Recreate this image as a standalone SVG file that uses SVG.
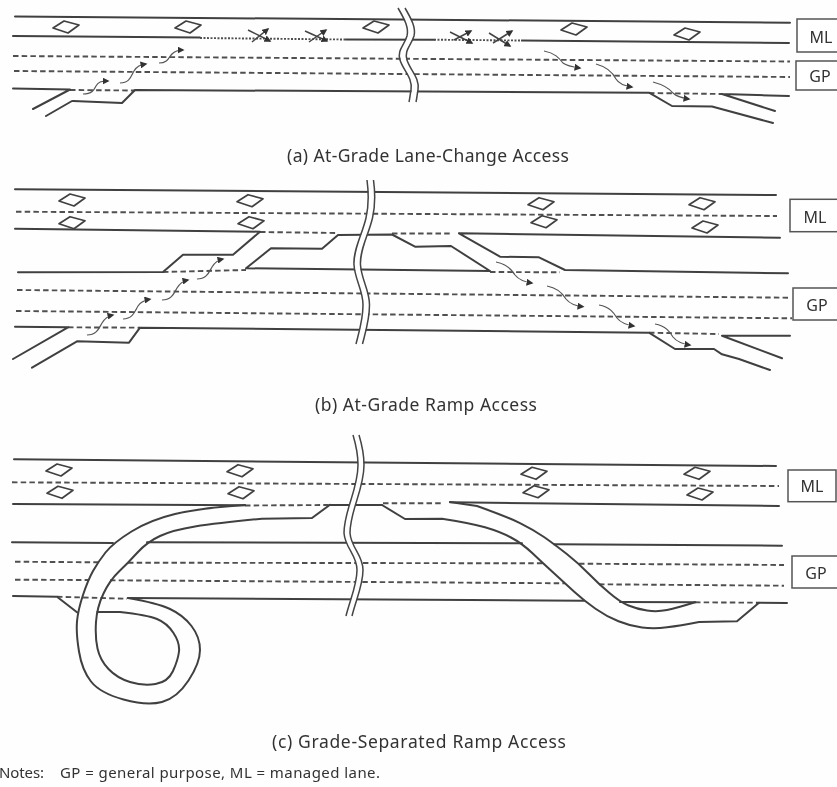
<svg xmlns="http://www.w3.org/2000/svg" xmlns:xlink="http://www.w3.org/1999/xlink" width="837" height="787" viewBox="0 0 837 787">
<style>
.l{fill:none;stroke:#404040;stroke-width:2;stroke-linejoin:round;stroke-linecap:round}
.d{fill:none;stroke:#505050;stroke-width:1.9;stroke-dasharray:5.5 3.2}
.t{fill:none;stroke:#505050;stroke-width:1.9;stroke-dasharray:2 1.5}
.r{fill:none;stroke:#404040;stroke-width:1.7;stroke-linejoin:round}
.q{fill:none;stroke:#555;stroke-width:1.2;marker-end:url(#a)}
.x{fill:none;stroke:#444;stroke-width:1.5;marker-end:url(#a)}
.b{fill:none;stroke:#444;stroke-width:1.5}
.g{fill:none;stroke:#fff;stroke-width:5.5}
.k{fill:#fff;stroke:#555;stroke-width:1.5}
text{font-family:"Noto Sans","DejaVu Sans",sans-serif;fill:#333}
.n{font-size:16px;text-anchor:middle;dominant-baseline:central}
.c{font-size:17.5px}
</style>
<defs>
<marker id="a" markerUnits="userSpaceOnUse" markerWidth="8" markerHeight="7" refX="5.500" refY="3.500" orient="auto"><path d="M0 0L7 3.500L0 7Z" fill="#333"/></marker>
<path id="m" class="r" d="M-13 1L-2-6L13-2L2 6Z"/>
<filter id="s" x="-2%" y="-2%" width="104%" height="104%"><feGaussianBlur stdDeviation="0.45"/></filter>
<path id="ba" d="M398 8C405 20 409 28 407 36C404 46 397 50 400 60C403 70 413 78 411 90C410 95 410 98 409 102"/>
<path id="bb" d="M367 180C369 195 369 205 366 218C362 235 353 250 354 265C355 280 363 290 363 305C363 320 359 332 356 344"/>
<path id="bc" d="M353 435C356 445 358 455 358 465C358 490 344 510 344 533C345 548 357 555 357 570C357 585 350 600 346 616"/>
</defs>
<rect width="837" height="787" fill="#fefefe"/>
<g filter="url(#s)">
<g id="panel-a">
<path class="l" d="M15 16.500L400 19.500L790 22.700"/>
<path class="l" d="M13 36L200 37.500M346 39.500L434 39.700M522 40.500L789 43"/>
<path class="t" d="M200 38L346 39.500M434 39.700L522 40.500"/>
<path class="d" d="M13 56L790 61.500M14 71L790 77M70 90L135 90.500M649 93L722 94"/>
<path class="l" d="M13 88.500L70 89.500L33 109M135 90L649 92.700L672 106L712 106.500L773 123M722 94L789 96M722 94L775 111M72 101L46 116M73 101L122 103L135 90"/>
<use href="#m" x="66" y="27"/><use href="#m" x="188" y="27"/><use href="#m" x="376" y="27"/><use href="#m" x="574" y="29"/><use href="#m" x="687" y="34"/>
<path class="x" d="M248 30L270 41"/><path class="x" d="M252 42L268 29"/>
<path class="x" d="M305 31L327 41"/><path class="x" d="M309 42L326 30"/>
<path class="x" d="M450 32L472 43"/><path class="x" d="M454 40L471 31"/>
<path class="x" d="M489 33L510 46"/><path class="x" d="M493 43L512 31"/>
<path class="q" d="M83 94C92 94 94 90 96 86C98 82 101 81 108 81"/>
<path class="q" d="M120 83C130 83 131 76 134 71C137 66 140 65 146 64"/>
<path class="q" d="M159 63C168 63 169 57 172 54C175 51 178 50 183 50"/>
<path class="q" d="M544 51C555 53 559 58 563 63C567 66 573 67 580 68"/>
<path class="q" d="M596 64C607 67 613 73 616 79C619 84 625 86 632 87"/>
<path class="q" d="M653 82C664 85 669 88 673 93C676 96 682 98 689 99"/>
<use href="#ba" class="g" x="3.500"/><use href="#ba" class="b"/><use href="#ba" class="b" x="7"/>
</g>
<g id="label-a-ml"><rect class="k" x="797" y="19" width="44" height="33"/><text class="n" x="821" y="37">ML</text></g>
<g id="label-a-gp"><rect class="k" x="796" y="61" width="45" height="29"/><text class="n" x="820" y="76">GP</text></g>
<text class="c" x="287" y="162" textLength="282">(a) At-Grade Lane-Change Access</text>

<g id="panel-b">
<path class="l" d="M15 189.300L776 195"/>
<path class="d" d="M16 211.700L777 216M260 232L338 233M392 233.500L452 233.500M163 272L246 270M490 272L560 272.300M17 290L788 297.700M16 311L792 318.300M68 327.300L140 327.700M649 332.700L719 334"/>
<path class="l" d="M15 228.700L260 231.700L233 254.700L183 254.700L163 272L18 272.300"/>
<path class="l" d="M246 268.300L271 248.300L322 248.700L338 235L392 234.500L415 246.700L451 246L490 271L246 268.300Z"/>
<path class="l" d="M459 233.300L780 237.700M459 233.300L500 256.700L539 257.300L565 270L788 273.300"/>
<path class="l" d="M15 326.700L68 327.300L13 359M32 367.700L77 341.300L129 342.700L140 327.700L649 332.700L675 349L714 349L722 354.300L739 359L770 370M722 335.700L790 335.700M722 335.700L782 358.300"/>
<use href="#m" x="72" y="200"/><use href="#m" x="72" y="222.700"/><use href="#m" x="250" y="200.700"/><use href="#m" x="251" y="222.700"/><use href="#m" x="541" y="203.700"/><use href="#m" x="544" y="221.700"/><use href="#m" x="702" y="203.700"/><use href="#m" x="705" y="227"/>
<path class="q" d="M87 335C97 335 99 328 102 323C105 318 108 316 113 315"/>
<path class="q" d="M123 319C133 319 135 311 138 306C141 301 145 300 150 299.300"/>
<path class="q" d="M162 300C172 300 174 293 177 288C180 283 183 281 188 280"/>
<path class="q" d="M197 279C207 279 209 272 212 267C215 262 218 260 223 259"/>
<path class="q" d="M496 262C507 264 512 270 515 275C519 280 525 282 532 283"/>
<path class="q" d="M547 286C558 288 563 294 566 299C570 304 576 306 583 306.700"/>
<path class="q" d="M599 305C610 307 614 313 617 318C621 323 627 325 634 326"/>
<path class="q" d="M655 324C666 326 670 332 673 337C677 342 683 344 690 345"/>
<use href="#bb" class="g" x="3.200"/><use href="#bb" class="b"/><use href="#bb" class="b" x="6.500"/>
</g>
<g id="label-b-ml"><rect class="k" x="790" y="199.300" width="51" height="32.400"/><text class="n" x="815" y="217">ML</text></g>
<g id="label-b-gp"><rect class="k" x="793" y="288" width="48" height="32"/><text class="n" x="817" y="305">GP</text></g>
<text class="c" x="315" y="411" textLength="222">(b) At-Grade Ramp Access</text>

<g id="panel-c">
<path class="l" d="M14 459.300L776 466"/>
<path class="d" d="M12 482.300L779 486M245 505.500L330 505M383 503.300L442 503.300M15 561.700L98 562.300M128 562.700L543 563.300M579 563.700L784 565M15 579.700L89 580M110 580.300L565 583.300M599 584.300L784 585.700M57 596.700L127 598.700M695 602.300L757 602.700"/>
<path class="l" d="M13 504L245 505.300M330 505L382 505M450 502.300L779 506M12 542.300L113 543M147 542.300L522 543.300M554 544.300L782 545.700M13 596L57 596.700L77 612.300M128 598L584 600.700M620 602L695 602.300M757 602.700L787 603"/>
<path class="l" d="M245 505Q200 508 175 514Q150 520 131.500 531.500Q113 543 105.500 552.500Q98 562 93 571Q88 580 83 595Q78 610 77 621.500Q76 633 79 651.500Q82 670 91 681.500Q100 693 123.500 699.500Q147 706 162 702Q177 698 188.500 680.500Q200 663 200 650Q200 637 191.500 626Q183 615 170 609Q157 603 128 598"/>
<path class="l" d="M330 504.700L312 518L262 518.700Q217 523 195 526.500Q173 530 160 536Q147 542 137.500 552.500Q128 563 119 571.500Q110 580 103.500 593.500Q97 607 96 622Q95 637 97.500 648.500Q100 660 108.500 669Q117 678 130 682Q143 686 155.500 684Q168 682 173 671Q178 660 179 651.500Q180 643 173.500 633Q167 623 157 619Q147 615 120 612L97 612"/>
<path class="l" d="M450 502L477 506Q507 516.700 520.500 523.300Q534 530 544 537Q554 544 566.500 553.800Q579 563.700 589 574Q599 584.300 609.500 593Q620 602 628.500 605.500Q637 609 647 610.500Q657 612 667 610Q677 608 695 602.300"/>
<path class="l" d="M382 505L405 519L442 518.700Q470 523 485 527.300Q500 531.700 511 537.500Q522 543.300 532.500 553.300Q543 563.300 554 573.300Q565 583.300 574.500 592Q584 600.700 595.500 608.700Q607 616.700 618.500 621.300Q630 626 642 627.500Q654 629 667 627.300Q680 625.700 699 622L737 621.300L759 602.700"/>
<use href="#m" x="59" y="470"/><use href="#m" x="60" y="492.300"/><use href="#m" x="240" y="470.700"/><use href="#m" x="241" y="492.700"/><use href="#m" x="534" y="473.300"/><use href="#m" x="536" y="491.700"/><use href="#m" x="697" y="473.300"/><use href="#m" x="700" y="494"/>
<use href="#bc" class="g" x="3"/><use href="#bc" class="b"/><use href="#bc" class="b" x="6"/>
</g>
<g id="label-c-ml"><rect class="k" x="788" y="470" width="48" height="31.700"/><text class="n" x="812" y="486">ML</text></g>
<g id="label-c-gp"><rect class="k" x="792" y="556" width="49" height="32"/><text class="n" x="816" y="573">GP</text></g>
<text class="c" x="272" y="748" textLength="294">(c) Grade-Separated Ramp Access</text>
<text font-size="15" y="778"><tspan x="-1" textLength="45">Notes:</tspan><tspan x="60" textLength="320">GP = general purpose, ML = managed lane.</tspan></text>
</g>
</svg>
